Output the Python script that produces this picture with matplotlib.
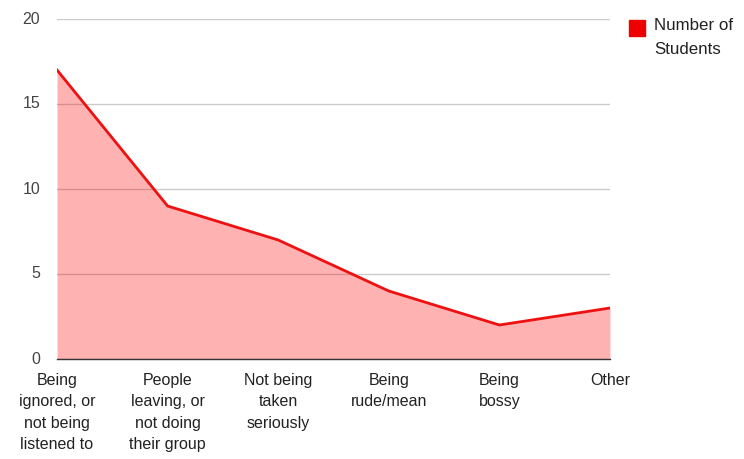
import matplotlib
matplotlib.use("Agg")
import matplotlib.pyplot as plt

categories = ["Being\nignored, or\nnot being\nlistened to",
              "People\nleaving, or\nnot doing\ntheir group",
              "Not being\ntaken\nseriously",
              "Being\nrude/mean",
              "Being\nbossy",
              "Other"]
values = [17, 9, 7, 4, 2, 3]
yticks = [0, 5, 10, 15, 20]
series_name = "Number of\nStudents"

plt.rcParams['font.family'] = ['Liberation Sans', 'DejaVu Sans']

fig = plt.figure(figsize=(7.44, 4.59), dpi=100)
ax = fig.add_axes([57/744, 1-359/459, (610-57)/744, (359-19)/459])

x = list(range(len(values)))
ax.fill_between(x, values, 0, color=(1, 0, 0, 0.3), linewidth=0, zorder=2)
ax.plot(x, values, color="#ee1111", linewidth=2, zorder=3, solid_joinstyle='miter')

ax.set_xlim(0, len(values) - 1)
ax.set_ylim(0, 20)
ax.set_yticks(yticks)
ax.set_yticklabels([str(t) for t in yticks], fontsize=11.5, color="#444444")
ax.set_xticks(x)
ax.set_xticklabels(categories, fontsize=11.5, color="#222222", linespacing=1.53)
ax.tick_params(axis='both', length=0)
ax.tick_params(axis='y', pad=12)
ax.tick_params(axis='x', pad=10)
for t in ax.get_yticklabels():
    t.set_verticalalignment('center')

ax.grid(axis='y', color="#cccccc", linewidth=1, zorder=1)
for s in ['top', 'right', 'left']:
    ax.spines[s].set_visible(False)
ax.spines['bottom'].set_color("#333333")
ax.spines['bottom'].set_linewidth(1)
ax.spines['bottom'].set_zorder(4)

# legend
fig.patches.append(plt.Rectangle((629/744, 1-36/459), 16/744, 16/459,
                                 transform=fig.transFigure, color="#ee0000"))
fig.text(654/744, 1-18/459, series_name, fontsize=12.2, color="#222222",
         va='top', ha='left', linespacing=1.75)

fig.savefig("out.png", dpi=100)
